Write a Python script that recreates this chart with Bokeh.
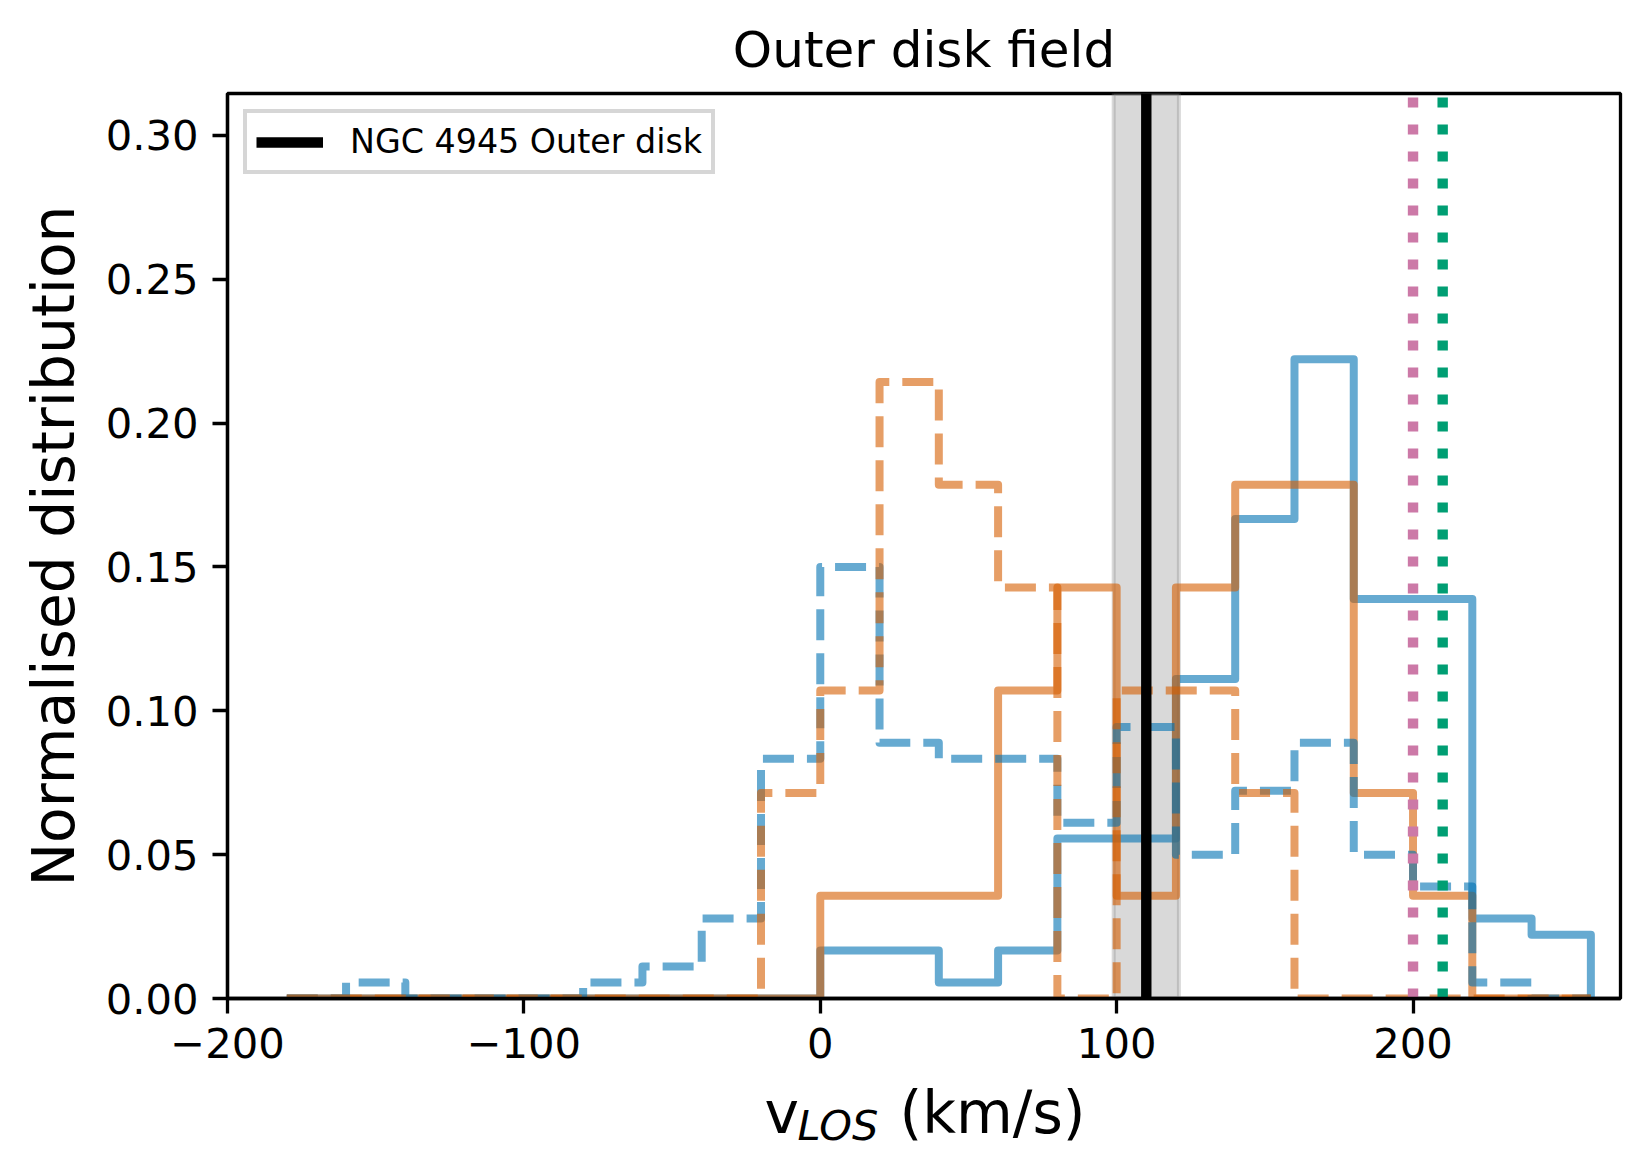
import numpy as np
from bokeh.plotting import figure
from bokeh.layouts import column
from bokeh.models import (Range1d, FixedTicker, NumeralTickFormatter,
                          Legend, LegendItem, CustomJSTickFormatter)
from bokeh.core.properties import value
from bokeh.embed import file_html
from bokeh.resources import INLINE

# ---------------- data ----------------
bin_edges = [-180, -160, -140, -120, -100, -80, -60, -40, -20, 0, 20, 40,
             60, 80, 100, 120, 140, 160, 180, 200, 220, 240, 260]

blue_solid = [0, 0, 0, 0, 0, 0, 0, 0, 0,
              0.0167, 0.0167, 0.0056, 0.0167, 0.0556, 0.0556, 0.1111,
              0.1667, 0.2222, 0.1389, 0.1389, 0.0278, 0.0222]
blue_dashed = [0, 0.0056, 0, 0, 0, 0.0056, 0.0111, 0.0278, 0.0833,
               0.15, 0.0889, 0.0833, 0.0833, 0.0611, 0.0944, 0.05,
               0.0722, 0.0889, 0.05, 0.0389, 0.0056, 0]
orange_solid = [0, 0, 0, 0, 0, 0, 0, 0, 0,
                0.0357, 0.0357, 0.0357, 0.1071, 0.1429, 0.0357, 0.1429,
                0.1786, 0.1786, 0.0714, 0.0357, 0, 0]
orange_dashed = [0, 0, 0, 0, 0, 0, 0, 0, 0.0714,
                 0.1071, 0.2143, 0.1786, 0.1429, 0, 0.1071, 0.1071,
                 0.0714, 0, 0, 0, 0, 0]

ngc_vsys = 110.0
ngc_vsys_err = 11.0
pink_vline = 200.0
green_vline = 210.0

x_ticks = [-200, -100, 0, 100, 200]
y_ticks = [0.0, 0.05, 0.10, 0.15, 0.20, 0.25, 0.30]

title_text = "Outer disk field"
ylabel_text = "Normalised distribution"
xlabel_main = "v"
xlabel_sub = "LOS"
xlabel_unit = "(km/s)"
legend_text = "NGC 4945 Outer disk"

XMIN, XMAX = -200, 270
YMIN, YMAX = 0.0, 0.3146

BLUE = "#0072B2"
ORANGE = "#D55E00"
PINK = "#CC79A7"
GREEN = "#009E73"
FONT = "DejaVu Sans"

# ---------------- layout (pixels) ----------------
FL, FW, FR = 227, 1393, 25
TOP_H = 83            # strip holding the title
P_TOP, FH, P_BOT = 10, 905, 82
BOT_H = 90            # strip holding the x label
TXT_SHIFT = 19        # measured vertical correction for strip texts
PAGE_H = TOP_H + P_TOP + FH + P_BOT + BOT_H


def step_xy(edges, vals):
    xs = [edges[0]]
    ys = [0.0]
    for i, v in enumerate(vals):
        xs += [edges[i], edges[i + 1]]
        ys += [v, v]
    xs.append(edges[-1])
    ys.append(0.0)
    return xs, ys


def strip(h):
    # frame aligned with the main plot's frame; x data == page pixel column
    s = figure(frame_width=FW, frame_height=h,
               min_border_left=FL, min_border_right=FR,
               min_border_top=0, min_border_bottom=0,
               x_range=Range1d(FL, FL + FW), y_range=Range1d(0, h),
               x_axis_location=None, y_axis_location=None,
               output_backend="svg", toolbar_location=None, tools="")
    s.xgrid.visible = False
    s.ygrid.visible = False
    s.outline_line_color = None
    s.background_fill_color = "white"
    s.border_fill_color = "white"
    return s


# ---- title strip ----
top = strip(TOP_H)
top.text(x=[FL + FW / 2], y=[TOP_H - 68 + TXT_SHIFT], text=[title_text],
         text_font=value(FONT), text_font_size=value("50px"),
         text_align="center", text_baseline="alphabetic", text_color="black")

# ---- main plot ----
p = figure(frame_width=FW, frame_height=FH,
           min_border_left=FL, min_border_right=FR,
           min_border_top=P_TOP, min_border_bottom=P_BOT,
           x_range=Range1d(XMIN, XMAX), y_range=Range1d(YMIN, YMAX),
           output_backend="svg", toolbar_location=None, tools="")

p.xgrid.visible = False
p.ygrid.visible = False
p.outline_line_color = "black"
p.outline_line_width = 3.3
p.outline_line_alpha = 1.0
p.background_fill_color = "white"
p.border_fill_color = "white"

p.quad(left=[ngc_vsys - ngc_vsys_err], right=[ngc_vsys + ngc_vsys_err],
       bottom=[YMIN], top=[YMAX], fill_color="grey", fill_alpha=0.3,
       line_color="grey", line_alpha=0.3, line_width=4)

for vals, col, dash in [(blue_solid, BLUE, "solid"),
                        (orange_solid, ORANGE, "solid"),
                        (blue_dashed, BLUE, "31 13"),
                        (orange_dashed, ORANGE, "31 13")]:
    xs, ys = step_xy(bin_edges, vals)
    p.line(xs, ys, line_color=col, line_alpha=0.6, line_width=8,
           line_dash=dash, line_join="round", line_cap="butt")

black_r = p.line([ngc_vsys, ngc_vsys], [YMIN, YMAX], line_color="black",
                 line_width=10.4)

for xv, col in [(pink_vline, PINK), (green_vline, GREEN)]:
    p.line([xv, xv], [YMIN, YMAX], line_color=col, line_width=10.4,
           line_dash="10 17", line_cap="butt")

for ax in (p.xaxis[0], p.yaxis[0]):
    ax.axis_line_width = 3.3
    ax.axis_line_color = "black"
    ax.major_tick_line_width = 3.3
    ax.major_tick_line_color = "black"
    ax.major_tick_out = 15
    ax.major_tick_in = 0
    ax.minor_tick_out = 0
    ax.minor_tick_in = 0
    ax.major_label_text_font = FONT
    ax.major_label_text_font_size = "41.7px"
    ax.major_label_text_color = "black"
    ax.major_label_standoff = 14

p.xaxis.ticker = FixedTicker(ticks=x_ticks)
p.xaxis.formatter = CustomJSTickFormatter(
    code="return tick < 0 ? '\u2212' + Math.abs(tick) : tick.toString();")
p.yaxis.ticker = FixedTicker(ticks=y_ticks)
p.yaxis.formatter = NumeralTickFormatter(format="0.00")

p.yaxis.axis_label = ylabel_text
p.yaxis.axis_label_text_font = FONT
p.yaxis.axis_label_text_font_size = "58.3px"
p.yaxis.axis_label_text_font_style = "normal"
p.yaxis.axis_label_text_color = "black"
p.yaxis.axis_label_standoff = 15

legend = Legend(items=[LegendItem(label=legend_text, renderers=[black_r])],
                location="top_left", margin=16, padding=9, spacing=0,
                glyph_width=67, glyph_height=28, label_height=28,
                label_standoff=27, label_text_font=FONT,
                label_text_font_size="33.3px", label_text_color="black",
                label_text_baseline="middle",
                border_line_color="#cccccc", border_line_width=4,
                border_line_alpha=0.8, background_fill_alpha=0.8)
p.add_layout(legend)

# ---- x label strip (y measured up from the page bottom) ----
bot = strip(BOT_H)
bot.text(x=[764], y=[PAGE_H - 1131 + TXT_SHIFT], text=[xlabel_main],
         text_font=value(FONT), text_font_size=value("58.3px"),
         text_align="left", text_baseline="alphabetic", text_color="black")
bot.text(x=[797], y=[PAGE_H - 1144 + TXT_SHIFT], text=[xlabel_sub],
         text_font=value(FONT), text_font_size=value("41.5px"),
         text_font_style="italic",
         text_align="left", text_baseline="alphabetic", text_color="black")
bot.text(x=[899], y=[PAGE_H - 1131 + TXT_SHIFT], text=[xlabel_unit],
         text_font=value(FONT), text_font_size=value("58.3px"),
         text_align="left", text_baseline="alphabetic", text_color="black")

layout = column(top, p, bot, spacing=0)
open("out.html", "w").write(file_html(layout, INLINE))
